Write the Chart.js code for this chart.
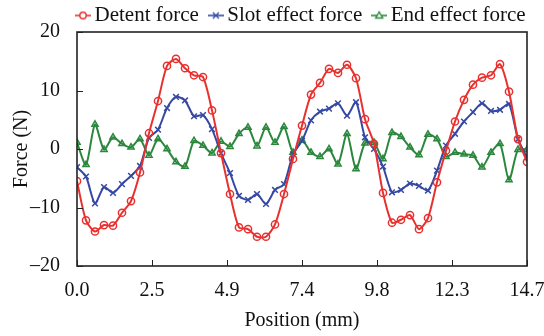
<!DOCTYPE html>
<html><head><meta charset="utf-8">
<script src="https://cdn.jsdelivr.net/npm/chart.js@4/dist/chart.umd.min.js"></script>
<style>html,body{margin:0;padding:0;background:#fff}#wrap{width:544px;height:336px}</style>
</head><body><div id="wrap"><canvas id="c" width="544" height="336"></canvas></div>
<script>
const positions = [0, 0.294, 0.588, 0.882, 1.176, 1.47, 1.764, 2.058, 2.352, 2.646, 2.94, 3.234, 3.528, 3.822, 4.116, 4.41, 4.704, 4.998, 5.292, 5.586, 5.88, 6.174, 6.468, 6.762, 7.056, 7.35, 7.644, 7.938, 8.232, 8.526, 8.82, 9.114, 9.408, 9.702, 9.996, 10.29, 10.584, 10.878, 11.172, 11.466, 11.76, 12.054, 12.348, 12.642, 12.936, 13.23, 13.524, 13.818, 14.112, 14.406, 14.7];
const detentForce = [-5.5,-12.2,-14.1,-13.0,-13.1,-10.9,-8.9,-4.0,2.7,8.2,14.2,15.4,13.8,12.6,12.3,6.6,-0.7,-7.7,-13.4,-13.7,-15.0,-15.0,-12.9,-7.7,-1.7,4.0,9.3,11.3,13.7,13.0,14.4,12.1,5.1,0.9,-7.5,-12.6,-12.1,-11.3,-13.7,-11.8,-5.7,-0.3,4.7,8.4,11.0,12.2,12.6,14.5,9.8,1.7,-2.2];
const slotEffectForce = [-3.1,-4.7,-9.3,-6.5,-7.5,-6.0,-4.6,-2.9,1.9,3.3,7.0,8.9,8.3,5.6,5.8,3.4,-0.7,-4.1,-8.0,-8.7,-7.7,-9.4,-7.0,-6.0,-0.9,1.4,4.9,6.4,6.9,7.8,5.7,8.0,2.0,0.0,-3.0,-7.4,-7.0,-5.9,-6.3,-7.1,-3.7,0.6,2.6,4.7,6.3,7.8,6.5,6.7,7.7,1.7,-1.4];
const endEffectForce = [1.1,-2.7,4.2,-0.1,2.0,0.9,0.3,1.7,-1.1,1.7,0.0,-2.2,-3.0,1.4,0.6,-0.7,1.3,0.4,2.6,3.7,0.5,3.7,1.1,3.8,-0.6,1.5,-0.6,-1.3,0.0,-2.6,2.6,-3.4,1.0,1.1,-1.7,2.8,2.1,0.3,-1.0,2.5,1.7,-1.3,-0.6,-0.9,-1.1,-3.1,-0.6,0.9,-5.3,-0.1,-0.1];
const seriesNames = ['Detent force','Slot effect force','End effect force'];
const xTickValues = [0, 2.45, 4.9, 7.35, 9.8, 12.25, 14.7];
const xTickLabels = ['0.0','2.5','4.9','7.4','9.8','12.3','14.7'];
const yTickValues = [-20, -10, 0, 10, 20];

const RED = '#e8312f', BLUE = '#3548a3', GREEN = '#2a873c';
const FONT = '"Liberation Serif", "Times New Roman", serif';
const FS = 20;
const LEG_FS = 21;
const LEG_PAD = 16;

function legendIcon(color, style) {
  const cv = document.createElement('canvas');
  cv.width = 16; cv.height = 12;
  const g = cv.getContext('2d');
  g.strokeStyle = color; g.lineWidth = 1.6;
  g.beginPath(); g.moveTo(0, 6); g.lineTo(16, 6); g.stroke();
  g.lineWidth = 1.4;
  g.beginPath();
  if (style === 'circle') { g.arc(8, 6, 3.2, 0, Math.PI * 2); g.fillStyle = '#fff'; g.fill(); g.stroke(); }
  else if (style === 'cross') { g.moveTo(5, 3); g.lineTo(11, 9); g.moveTo(11, 3); g.lineTo(5, 9); g.stroke(); }
  else { g.moveTo(8, 2.5); g.lineTo(11.5, 8.5); g.lineTo(4.5, 8.5); g.closePath(); g.fillStyle = '#fff'; g.fill(); g.stroke(); }
  return cv;
}

const frame = {
  id: 'frame',
  afterLayout(chart) {
    const lg = chart.legend;
    if (lg) { lg.left = 82 - LEG_PAD; lg.top = 5 - LEG_PAD; }
  },
  afterDatasetsDraw(chart) {
    const {ctx, chartArea: a, scales} = chart;
    ctx.save();
    ctx.strokeStyle = '#222'; ctx.lineWidth = 1.6;
    ctx.strokeRect(a.left, a.top, a.right - a.left, a.bottom - a.top);
    ctx.lineWidth = 1;
    ctx.beginPath();
    xTickValues.forEach(v => { const x = Math.round(scales.x.getPixelForValue(v)) + 0.5; ctx.moveTo(x, a.bottom); ctx.lineTo(x, a.bottom - 6); });
    yTickValues.forEach(v => { const y = Math.round(scales.y.getPixelForValue(v)) + 0.5; ctx.moveTo(a.left, y); ctx.lineTo(a.left + 6, y); });
    ctx.stroke();
    ctx.restore();
  }
};

function ds(label, data, color, style, icon) {
  return {
    label, data: positions.map((p, i) => ({x: p, y: data[i]})),
    borderColor: color, backgroundColor: 'rgba(255,255,255,0)', borderWidth: 2,
    pointStyle: style, pointRadius: style === 'crossRot' ? 4 : 3.6, pointBorderWidth: 1.5,
    pointBorderColor: color, pointBackgroundColor: 'rgba(255,255,255,0)',
    tension: 0.25, _icon: icon
  };
}

new Chart(document.getElementById('c'), {
  type: 'line',
  data: { datasets: [
    ds(seriesNames[0], detentForce, RED, 'circle', legendIcon(RED, 'circle')),
    ds(seriesNames[1], slotEffectForce, BLUE, 'crossRot', legendIcon(BLUE, 'cross')),
    ds(seriesNames[2], endEffectForce, GREEN, 'triangle', legendIcon(GREEN, 'tri'))
  ]},
  options: {
    responsive: false, animation: false, devicePixelRatio: 1,
    layout: { padding: { left: 4, right: 0, top: 0, bottom: 0 } },
    plugins: {
      tooltip: { enabled: false },
      legend: {
        position: 'top', align: 'start', maxHeight: 32,
        labels: {
          font: { family: FONT, size: LEG_FS }, color: '#111', padding: LEG_PAD,
          usePointStyle: true, boxWidth: 2, boxHeight: 12,
          generateLabels(chart) {
            return chart.data.datasets.map((d, i) => ({
              text: d.label, pointStyle: d._icon, fillStyle: d.borderColor,
              strokeStyle: d.borderColor, lineWidth: 0, hidden: false, datasetIndex: i, fontColor: '#111'
            }));
          }
        }
      }
    },
    scales: {
      x: {
        type: 'linear', min: 0, max: 14.7,
        afterBuildTicks(s) { s.ticks = xTickValues.map(v => ({value: v})); },
        afterFit(s) { s.height = 70; s.paddingRight = 17; s.paddingLeft = 0; },
        grid: { display: false, drawTicks: false },
        border: { display: false },
        ticks: { padding: 13, autoSkip: false, maxRotation: 0, color: '#111', font: { family: FONT, size: FS },
          callback(v, i) { return xTickLabels[i]; } },
        title: { display: true, text: 'Position (mm)', color: '#111', font: { family: FONT, size: FS }, padding: { top: 2, bottom: 3 } }
      },
      y: {
        min: -20, max: 20,
        afterBuildTicks(s) { s.ticks = yTickValues.map(v => ({value: v})); },
        afterFit(s) { s.width = 73; },
        grid: { display: false, drawTicks: false },
        border: { display: false },
        ticks: { padding: 17, color: '#111', font: { family: FONT, size: FS },
          callback(v) { return v < 0 ? '\u2013' + Math.abs(v) : String(v); } },
        title: { display: true, text: 'Force (N)', color: '#111', font: { family: FONT, size: FS }, padding: { top: 6, bottom: 0 } }
      }
    }
  },
  plugins: [frame]
});
</script></body></html>
